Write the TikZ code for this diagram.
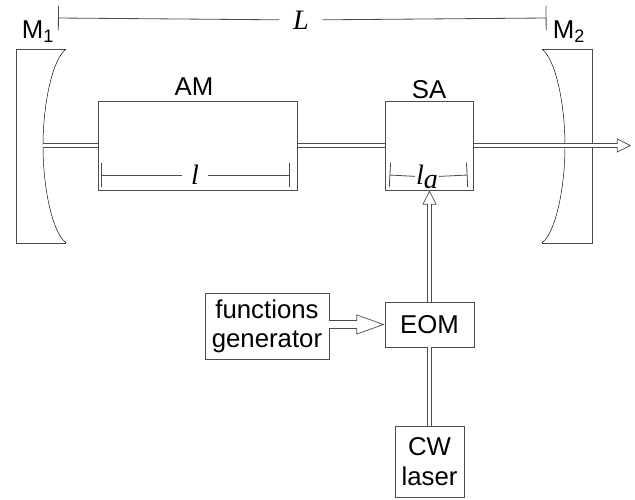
\documentclass[tikz,border=0pt]{standalone}
\usepackage{fontspec}
\setmainfont{Liberation Sans}
\newfontfamily\serifit{Liberation Serif}
\usetikzlibrary{arrows.meta}
\definecolor{wire}{gray}{0.3}
\tikzset{
  unit/.style={draw=wire,line width=0.75pt,inner sep=0pt,align=center,font=\fontsize{22}{25}\selectfont},
  tag/.style={inner sep=0pt,font=\fontsize{22}{25}\selectfont},
  len/.style={inner sep=0pt,font=\fontsize{24}{26}\selectfont\serifit\itshape},
  beam/.style={draw=wire,line width=3.5pt,postaction={draw=white,line width=2.1pt}},
  tipbeam/.style={draw=wire,line width=3.5pt,-{Triangle[open,fill=white,line width=0.6pt,length=12pt,width=12pt]},
    postaction={-,draw=white,line width=2.1pt,shorten >=11pt}},
  measure/.style={draw=wire,line width=0.7pt,{Bar[width=#1]}-},
  mirror/.style={draw=wire,line width=0.75pt},
}
\begin{document}
\begin{tikzpicture}[x=0.03cm,y=-0.03cm]
        \useasboundingbox (0,0) rectangle (635,500);
        % mirrors
        \draw[mirror] (66,49)--(16,49)--(16,243)--(66,243);
        \draw[line width=0.4pt] (66,49) .. controls (52,60) and (43,105) .. (43,146)
            .. controls (43,187) and (52,232) .. (66,243);
        \draw[mirror] (542,49)--(592,49)--(592,243)--(542,243);
        \draw[line width=0.4pt] (542,49) .. controls (556,60) and (565,105) .. (565,146)
            .. controls (565,187) and (556,232) .. (542,243);
        \coordinate (M1face) at (43,145.5);
        \coordinate (out) at (631,145.5);
        % boxes
        \node[unit,minimum width=5.97cm,minimum height=2.67cm] (AM) at (198,145.5){};
        \node[unit,minimum width=2.65cm,minimum height=2.67cm] (SA) at (429.5,145.5){};
        \node[unit,minimum width=2.67cm,minimum height=1.35cm] (EOM) at (429.5,324.5){EOM};
        \node[unit,minimum width=3.72cm,minimum height=1.98cm] (gen) at (267,326){functions\\generator};
        \node[unit,minimum width=2.07cm,minimum height=2.13cm] (laser) at (429.5,461.5){CW\\laser};
        % labels
        \node[tag] (M1) at (38,32){M\textsubscript{1}};
        \node[tag] (M2) at (569,32){M\textsubscript{2}};
        \node[tag] (AMname) at (194,87){AM};
        \node[tag] (SAname) at (429,90){SA};
        % lengths
        \coordinate (Lleft) at (58,18);
        \coordinate (Lright) at (546.5,18);
        \node[len,minimum width=1.29cm] (L) at (301,20){L};
        \draw[measure=21pt] (Lleft)--(L);
        \draw[measure=21pt] (Lright)--(L);
        \coordinate (lleft) at (101,175);
        \coordinate (lright) at (289.5,175);
        \node[len,minimum width=0.78cm] (l) at (195,175){l};
        \draw[measure=21pt] (lleft)--(l);
        \draw[measure=21pt] (lright)--(l);
        \coordinate (laleft) at (389.5,175);
        \coordinate (laright) at (467.5,175);
        \node[len,minimum width=0.72cm] (la) at (427,177){l\raisebox{-4pt}{a}};
        \draw[measure=21pt] (laleft)--(la);
        \draw[measure=21pt] (laright)--(la);
        % beams
        \draw[beam] (M1face)--(AM.west);
        \draw[beam] (AM.east)--(SA.west);
        \draw[tipbeam] (SA.east)--(out);
        \draw[tipbeam] (EOM.north)--(SA.south);
        \draw[beam] (laser.north)--(EOM.south);
        \draw[draw=wire,line width=7.2pt,-{Triangle[open,fill=white,line width=0.6pt,length=24pt,width=17pt]},
            postaction={-,draw=white,line width=6pt,shorten >=23pt}] (gen.east|-EOM.west)--(EOM.west);
\end{tikzpicture}
\end{document}
